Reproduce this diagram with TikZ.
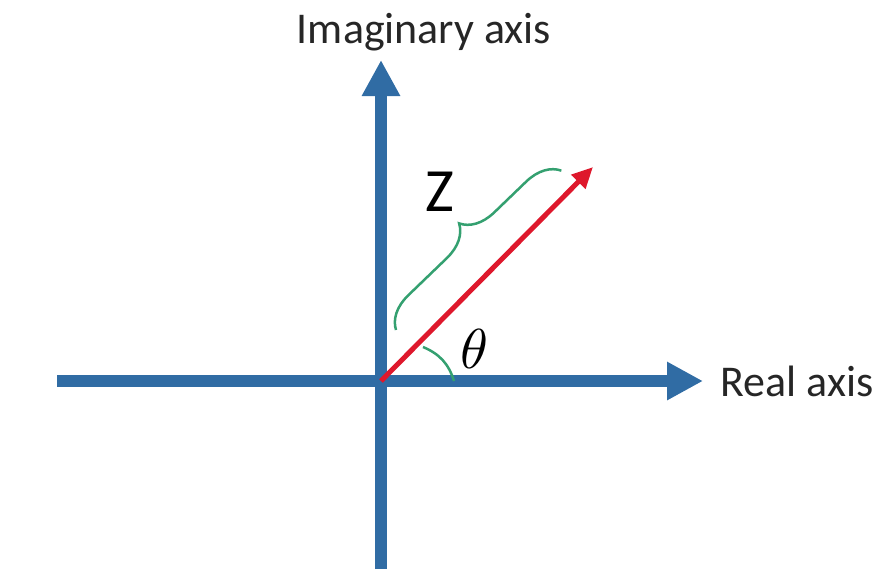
\documentclass[tikz,border=0pt]{standalone}
\usepackage{graphicx}
\usepackage{fontspec}
\setsansfont{Carlito}
\usetikzlibrary{arrows.meta,positioning,decorations.pathreplacing}
\definecolor{AxisBlue}{RGB}{48,108,164}
\definecolor{VectorRed}{RGB}{222,24,44}
\definecolor{MarkGreen}{RGB}{52,160,112}
\tikzset{
  axis/.style={-{Triangle[length=0.72cm,width=0.72cm]},line width=0.24cm,AxisBlue},
  vector/.style={-{Triangle[length=0.42cm,width=0.38cm]},line width=0.1cm,VectorRed},
  marker/.style={MarkGreen,line width=0.05cm},
  axislabel/.style={font=\sffamily\fontsize{25}{30}\selectfont,text=black!85,inner sep=0pt},
  zlabel/.style={font=\sffamily\fontsize{35}{40}\selectfont,inner sep=0pt},
  anglelabel/.style={inner sep=0pt}
}

\begin{document}
\begin{tikzpicture}[x=0.02cm,y=-0.02cm]
  \useasboundingbox (0,0) rectangle (881,569);
  \coordinate (O) at (381,381);
  \coordinate (xstart) at (57,381);
  \coordinate (xtip) at (703,381);
  \coordinate (ystart) at (381,569);
  \coordinate (ytip) at (381,60);
  \coordinate (ztip) at (593,167);
  \coordinate (bracelow) at (396,330);
  \coordinate (bracehigh) at (562,170);
  \coordinate (arcstart) at (423,347);
  \coordinate (arcend) at (454,381);
  % axes
  \draw[axis] (xstart) -- (xtip);
  \draw[axis] (ystart) -- (ytip);
  % the vector and its marks
  \draw[vector] (O) -- (ztip);
  \draw[marker,decorate,decoration={brace,amplitude=0.66cm,aspect=0.52}] (bracelow) -- (bracehigh);
  \draw[marker] (arcstart) to[bend left=25] (arcend);
  \node[axislabel,right=0.34cm of xtip] (realtext) {Real axis};
  \node[axislabel] (imagtext) at (424,32) {Imaginary axis};
  \node[zlabel] (zname) at (440,192) {Z};
  \node[anglelabel] (theta) at (474,349) {\scalebox{3.2}{$\theta$}};
\end{tikzpicture}
\end{document}
